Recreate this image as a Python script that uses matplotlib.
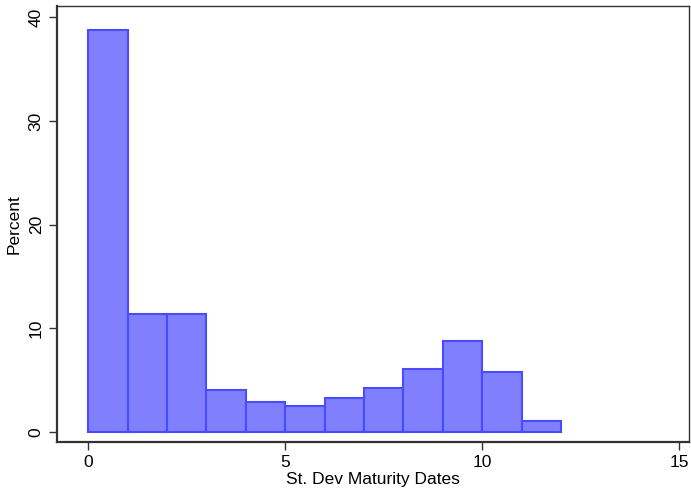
import matplotlib
matplotlib.use("Agg")
import matplotlib.pyplot as plt
import numpy as np

bin_edges = [0, 1, 2, 3, 4, 5, 6, 7, 8, 9, 10, 11, 12]
percent = [38.8, 11.35, 11.35, 4.05, 2.88, 2.47, 3.27, 4.22, 6.12, 8.75, 5.8, 1.02]
x_ticks = [0, 5, 10, 15]
y_ticks = [0, 10, 20, 30, 40]

plt.rcParams['font.family'] = ['Liberation Sans', 'DejaVu Sans']

fig = plt.figure(figsize=(6.91, 4.92), dpi=100)
ax = fig.add_axes([57/691, 1 - 442/492, (689-57)/691, (442-6)/492])

lefts = np.array(bin_edges[:-1])
widths = np.diff(bin_edges)
ax.bar(lefts, percent, width=widths, align='edge', color='#8080ff',
       edgecolor='#4a4aff', linewidth=1.5)

ax.set_xlim(-0.79, 15.25)
ax.set_ylim(-0.96, 41.1)
ax.set_xticks(x_ticks)
ax.set_yticks(y_ticks)
ax.tick_params(axis='both', direction='out', length=6, width=1, labelsize=12.5, color='#333333')
for lbl in ax.get_yticklabels():
    lbl.set_rotation(90)
    lbl.set_va('center')
for s in ax.spines.values():
    s.set_linewidth(1.0)
    s.set_color('#333333')
ax.spines['left'].set_linewidth(1.6)
ax.spines['bottom'].set_linewidth(1.6)
ax.set_xlabel('St. Dev Maturity Dates', fontsize=12.5, labelpad=1)
ax.set_ylabel('Percent', fontsize=12.5, labelpad=5)

fig.savefig('out.png', dpi=100)
